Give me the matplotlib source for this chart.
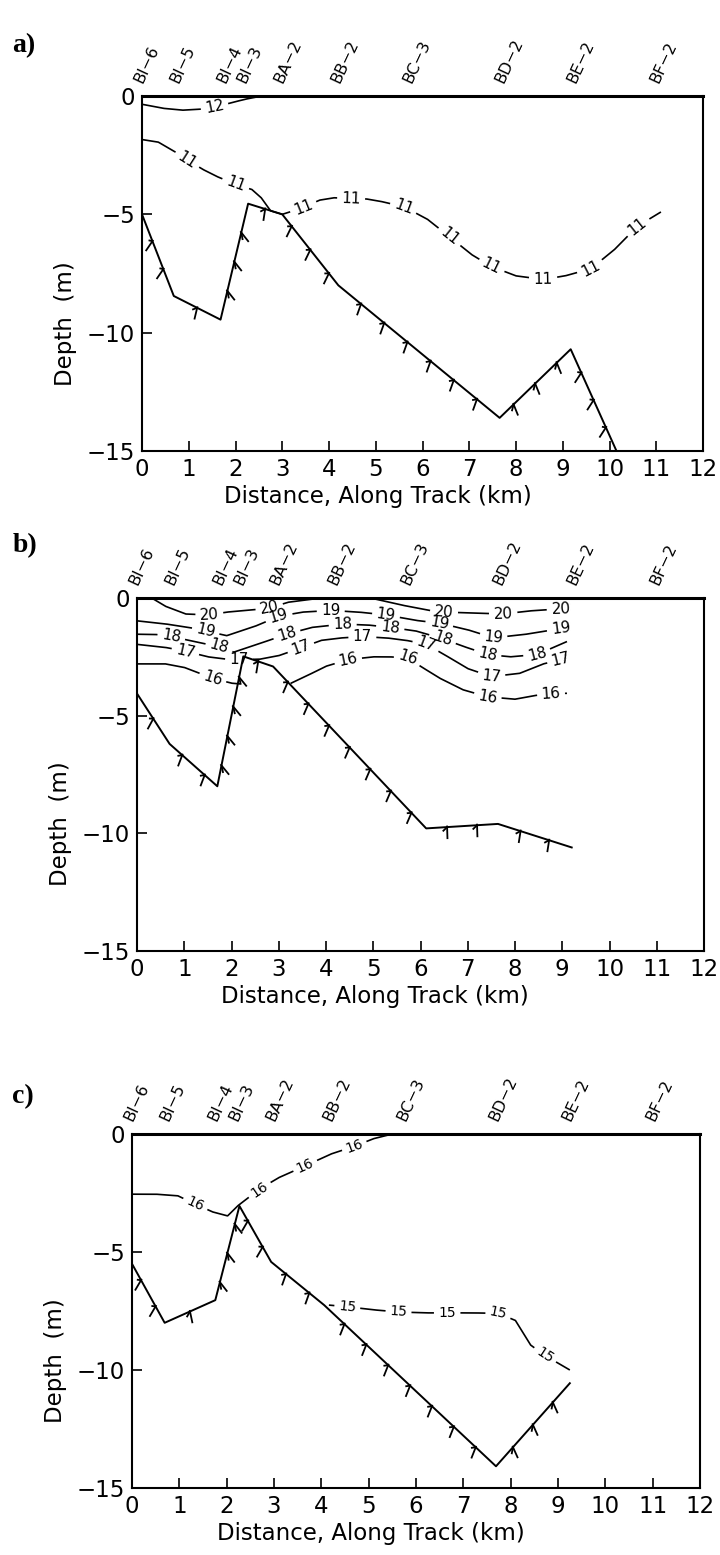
import numpy as np
import matplotlib
matplotlib.use("Agg")
import matplotlib.pyplot as plt
from matplotlib.collections import LineCollection

DPI = 100
FIG_W, FIG_H = 720, 1555

# ---- stations along the track ----
station_names = ["BI−6", "BI−5", "BI−4", "BI−3", "BA−2", "BB−2", "BC−3", "BD−2", "BE−2", "BF−2"]
station_km = [0.03, 0.80, 1.82, 2.25, 3.03, 4.25, 5.80, 7.75, 9.30, 11.07]

x_ticks = list(range(0, 13))
y_ticks = [0, -5, -10, -15]

# ---- (a) ----
a_bottom_km = [0.0, 0.68, 1.68, 2.27, 3.0, 4.2, 7.65, 9.17, 10.15]
a_bottom_m = [-5.0, -8.45, -9.45, -4.55, -5.0, -8.0, -13.6, -10.7, -15.0]

a_t12_km = [0.0, 0.45, 0.86, 1.3, 1.6, 1.92, 2.2, 2.45, 2.7]
a_t12_m = [-0.35, -0.52, -0.6, -0.55, -0.45, -0.28, -0.14, -0.04, 0.0]
a_t12_lab = [1.55]

a_t11_km = [0.0, 0.35, 0.7, 0.97, 1.3, 1.6, 2.0, 2.35, 2.55, 2.75, 3.0, 3.4, 3.8, 4.1, 4.47,
            4.8, 5.1, 5.6, 6.1, 6.58, 7.05, 7.47, 8.0, 8.58, 9.05, 9.6, 10.1, 10.6, 11.1]
a_t11_m = [-1.84, -1.95, -2.35, -2.7, -3.1, -3.4, -3.73, -3.95, -4.3, -4.85, -5.0, -4.75, -4.4,
           -4.3, -4.33, -4.35, -4.45, -4.68, -5.2, -5.95, -6.7, -7.2, -7.6, -7.75, -7.6, -7.3,
           -6.5, -5.5, -4.9]
a_t11_lab = [0.97, 2.0, 3.45, 4.47, 5.6, 6.58, 7.47, 8.58, 9.6, 10.6]

# ---- (b) ----
b_bottom_km = [0.0, 0.69, 1.7, 2.25, 2.88, 6.12, 7.64, 9.2]
b_bottom_m = [-4.06, -6.2, -8.0, -2.48, -2.91, -9.79, -9.6, -10.6]

b_t20a_km = [0.31, 0.6, 1.03, 1.53, 1.9, 2.46, 2.8, 3.2, 3.9]
b_t20a_m = [0.0, -0.35, -0.68, -0.72, -0.6, -0.5, -0.43, -0.18, 0.0]
b_t20a_lab = [1.53, 2.8]

b_t20b_km = [4.94, 5.6, 6.2, 6.5, 7.0, 7.75, 8.3, 8.97, 9.2]
b_t20b_m = [0.0, -0.3, -0.53, -0.6, -0.63, -0.68, -0.55, -0.46, -0.45]
b_t20b_lab = [6.5, 7.75, 8.97]

b_t19_km = [0.0, 0.6, 1.24, 1.45, 1.9, 2.5, 3.0, 3.5, 4.1, 4.7, 5.27, 5.9, 6.4, 7.0, 7.54, 8.2, 8.97, 9.2]
b_t19_m = [-0.97, -1.1, -1.3, -1.4, -1.6, -1.2, -0.78, -0.6, -0.53, -0.6, -0.72, -0.95, -1.07,
           -1.35, -1.69, -1.55, -1.3, -1.25]
b_t19_lab = [1.45, 3.0, 4.1, 5.27, 6.4, 7.54, 8.97]

b_t18_km = [0.0, 0.4, 0.73, 1.1, 1.45, 1.74, 2.05, 2.5, 3.17, 3.7, 4.35, 4.9, 5.36, 5.9, 6.47,
            6.9, 7.42, 7.9, 8.47, 9.1]
b_t18_m = [-1.54, -1.55, -1.64, -1.8, -1.95, -2.07, -2.3, -2.0, -1.54, -1.25, -1.11, -1.15,
           -1.25, -1.4, -1.73, -2.05, -2.4, -2.5, -2.4, -1.85]
b_t18_lab = [0.73, 1.74, 3.17, 4.35, 5.36, 6.47, 7.42, 8.47]

b_t17_km = [0.0, 0.6, 1.03, 1.5, 1.9, 2.16, 2.6, 3.0, 3.47, 3.9, 4.3, 4.77, 5.3, 5.7, 6.12,
            6.5, 7.0, 7.5, 8.1, 8.6, 8.97]
b_t17_m = [-1.97, -2.1, -2.26, -2.5, -2.6, -2.62, -2.6, -2.45, -2.12, -1.8, -1.7, -1.64, -1.7,
           -1.8, -1.97, -2.4, -3.0, -3.34, -3.2, -2.8, -2.62]
b_t17_lab = [1.03, 2.16, 3.47, 4.77, 6.12, 7.5, 8.97]

b_t16a_km = [0.0, 0.6, 1.0, 1.6, 2.0, 2.18]
b_t16a_m = [-2.8, -2.8, -2.95, -3.41, -3.62, -3.65]
b_t16a_lab = [1.6]

b_t16b_km = [3.25, 3.6, 4.0, 4.47, 5.0, 5.35, 5.73, 6.0, 6.4, 6.9, 7.42, 8.0, 8.4, 8.76, 9.1]
b_t16b_m = [-3.63, -3.3, -2.9, -2.62, -2.5, -2.5, -2.55, -2.9, -3.4, -3.9, -4.2, -4.3, -4.15,
            -4.06, -4.05]
b_t16b_lab = [4.47, 5.73, 7.42, 8.76]

# ---- (c) ----
c_bottom_km = [0.0, 0.69, 1.76, 2.27, 2.94, 4.06, 7.69, 9.25]
c_bottom_m = [-5.5, -8.0, -7.04, -3.05, -5.42, -7.25, -14.08, -10.56]

c_t16_km = [0.0, 0.5, 0.97, 1.34, 1.7, 2.02, 2.23, 2.69, 3.1, 3.66, 4.2, 4.7, 5.1, 5.5]
c_t16_m = [-2.55, -2.55, -2.62, -2.97, -3.3, -3.47, -3.05, -2.34, -1.85, -1.35, -0.85, -0.52,
           -0.2, 0.0]
c_t16_lab = [1.34, 2.69, 3.66, 4.7]

c_t15_km = [4.16, 4.55, 5.1, 5.63, 6.2, 6.66, 7.2, 7.74, 8.1, 8.42, 8.72, 9.25]
c_t15_m = [-7.25, -7.32, -7.45, -7.54, -7.58, -7.58, -7.58, -7.6, -7.9, -8.94, -9.38, -10.0]
c_t15_lab = [4.55, 5.63, 6.66, 7.74, 8.72]

FONT = "DejaVu Sans"
plt.rcParams["font.family"] = [FONT]


def isotherm(ax, km, m, value, label_km, fs=11):
    """Draw one isotherm as a line broken around its inline value labels."""
    to_px = ax.transData
    from_px = ax.transData.inverted()
    p = to_px.transform(np.column_stack([km, m]))
    d = np.hypot(np.diff(p[:, 0]), np.diff(p[:, 1]))
    s = np.concatenate([[0.0], np.cumsum(d)])
    ss = np.linspace(0.0, s[-1], int(s[-1] * 2) + 2)
    px = np.interp(ss, s, p[:, 0])
    py = np.interp(ss, s, p[:, 1])
    keep = np.ones(len(ss), bool)
    txt = str(value)
    half = 0.5 * len(txt) * 0.64 * fs * DPI / 72.0 + 4
    for lk in label_km:
        sl = np.interp(lk, km, s)
        keep &= np.abs(ss - sl) > half
        x0, y0 = np.interp(sl, s, p[:, 0]), np.interp(sl, s, p[:, 1])
        xa, ya = np.interp(sl - 7, s, p[:, 0]), np.interp(sl - 7, s, p[:, 1])
        xb, yb = np.interp(sl + 7, s, p[:, 0]), np.interp(sl + 7, s, p[:, 1])
        ang = np.degrees(np.arctan2(yb - ya, xb - xa))
        if ang > 90:
            ang -= 180
        if ang < -90:
            ang += 180
        dx, dy = from_px.transform([[x0, y0]])[0]
        ax.text(dx, dy, txt, rotation=ang, rotation_mode="anchor", ha="center",
                va="center", fontsize=fs, color="k", zorder=4)
    px[~keep] = np.nan
    py[~keep] = np.nan
    dat = from_px.transform(np.column_stack([px, py]))
    ax.plot(dat[:, 0], dat[:, 1], color="k", lw=1.2, solid_capstyle="butt", zorder=3)


def seafloor(ax, km, m, spacing=30.0, length=12.0):
    """Bottom profile with short hachures on the sediment side."""
    ax.plot(km, m, color="k", lw=1.4, zorder=3)
    to_px = ax.transData
    from_px = ax.transData.inverted()
    p = to_px.transform(np.column_stack([km, m]))
    segs = []
    for i in range(len(p) - 1):
        a, b = p[i], p[i + 1]
        v = b - a
        L = np.hypot(*v)
        u = v / L
        nrm = np.array([u[1], -u[0]])
        if nrm[1] > 0:
            nrm = -nrm
        direc = nrm + np.array([0.0, -1.0])
        direc /= np.hypot(*direc)
        k = int(L // spacing)
        if k == 0:
            continue
        start = (L - (k - 1) * spacing) / 2.0
        for j in range(k):
            base = a + u * (start + j * spacing)
            tip = base + direc * length
            spur = base - u * 4.5 + direc * 4.0
            segs.append(from_px.transform([base - direc * 1.5, tip]))
            segs.append(from_px.transform([base, spur]))
    ax.add_collection(LineCollection(segs, colors="k", linewidths=1.3, zorder=3))


def frame(ax, letter, letter_y):
    ax.set_xlim(0, 12)
    ax.set_ylim(-15, 0)
    ax.set_xticks(x_ticks)
    ax.set_yticks(y_ticks)
    ax.tick_params(direction="in", length=7, width=1.2, labelsize=16.5, top=False,
                   right=False, pad=5)
    for sp in ["left", "bottom", "right"]:
        ax.spines[sp].set_linewidth(1.5)
    ax.spines["top"].set_linewidth(2.2)
    ax.set_xlabel("Distance, Along Track (km)", fontsize=16.5)
    ax.xaxis.set_label_coords(0.42, -0.095)
    ax.set_ylabel("Depth  (m)", fontsize=16.5)
    ax.yaxis.set_label_coords(-0.115, 0.36)
    for name, xk in zip(station_names, station_km):
        ax.annotate(name, xy=(xk, 1), xycoords=("data", "axes fraction"),
                    xytext=(1, 8), textcoords="offset points", rotation=65,
                    rotation_mode="anchor", ha="left", va="bottom", fontsize=11.5,
                    annotation_clip=False)
    fig.text(0.017, letter_y, letter, family="Liberation Serif", fontsize=20,
             weight="bold", ha="left", va="center")


fig = plt.figure(figsize=(FIG_W / DPI, FIG_H / DPI), dpi=DPI)


def axes_px(left, right, top, bottom):
    return fig.add_axes([left / FIG_W, 1 - bottom / FIG_H, (right - left) / FIG_W,
                         (bottom - top) / FIG_H])


ax_a = axes_px(142, 703, 96, 451)
ax_b = axes_px(137, 704, 598, 951)
ax_c = axes_px(132, 700, 1134, 1488)

frame(ax_a, "a)", 1 - 46 / FIG_H)
frame(ax_b, "b)", 1 - 546 / FIG_H)
frame(ax_c, "c)", 1 - 1097 / FIG_H)

# panel (a)
seafloor(ax_a, a_bottom_km, a_bottom_m)
isotherm(ax_a, a_t12_km, a_t12_m, 12, a_t12_lab)
isotherm(ax_a, a_t11_km, a_t11_m, 11, a_t11_lab)

# panel (b)
seafloor(ax_b, b_bottom_km, b_bottom_m)
isotherm(ax_b, b_t20a_km, b_t20a_m, 20, b_t20a_lab)
isotherm(ax_b, b_t20b_km, b_t20b_m, 20, b_t20b_lab)
isotherm(ax_b, b_t19_km, b_t19_m, 19, b_t19_lab)
isotherm(ax_b, b_t18_km, b_t18_m, 18, b_t18_lab)
isotherm(ax_b, b_t17_km, b_t17_m, 17, b_t17_lab)
isotherm(ax_b, b_t16a_km, b_t16a_m, 16, b_t16a_lab)
isotherm(ax_b, b_t16b_km, b_t16b_m, 16, b_t16b_lab)

# panel (c)
seafloor(ax_c, c_bottom_km, c_bottom_m)
isotherm(ax_c, c_t16_km, c_t16_m, 16, c_t16_lab, fs=10)
isotherm(ax_c, c_t15_km, c_t15_m, 15, c_t15_lab, fs=10)

fig.savefig("out.png", dpi=DPI)
